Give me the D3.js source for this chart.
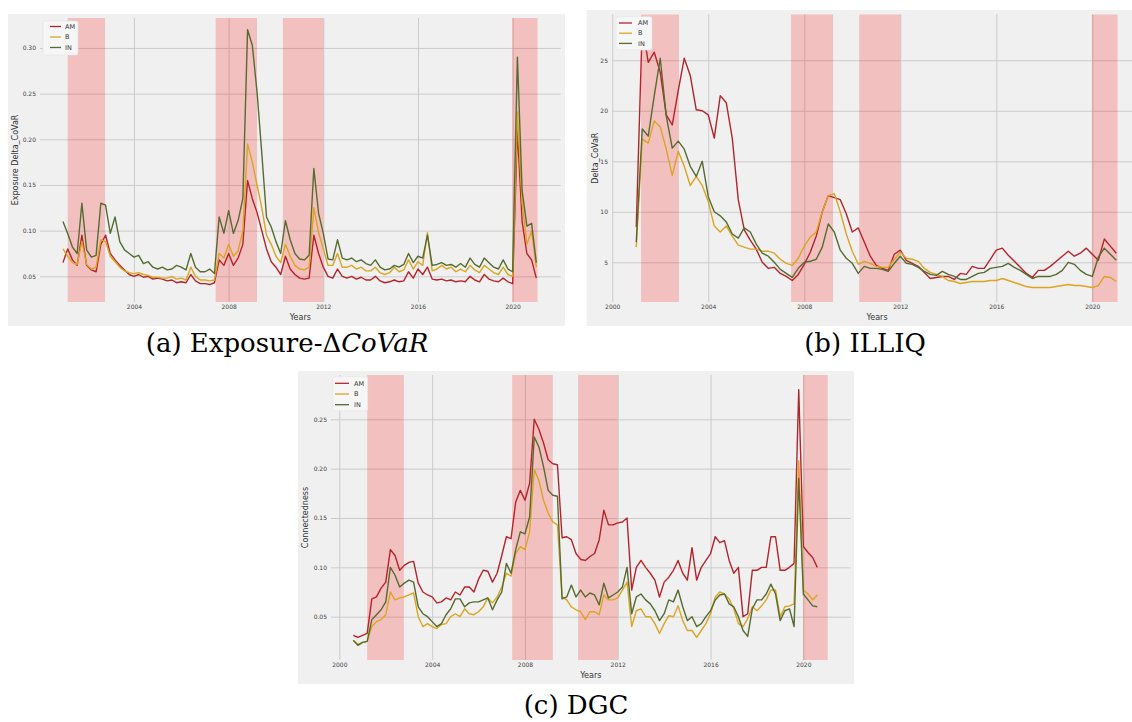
<!DOCTYPE html>
<html lang="en">
  <head>
    <meta charset="UTF-8" />
    <meta name="viewport" content="width=device-width, initial-scale=1.0" />
    <title>Exposure-ΔCoVaR, ILLIQ, DGC</title>
    <script type="text/javascript" src="https://d3js.org/d3.v7.min.js"></script>
    <style>
      body { margin: 0; background: #fff; }
      text { font-family: "DejaVu Sans", sans-serif; }
    </style>
  </head>
  <body>
    <svg width="1132" height="722"></svg>
    <script>
      const seriesNames = ["AM", "B", "IN"];
      const seriesColors = ["#b5232a", "#daa520", "#556b2f"];
      // shaded crisis periods (decimal years)
      const crisisBands = [[2001.2, 2002.78], [2007.45, 2009.2], [2010.29, 2012.0], [2019.98, 2021.05]];

      // (a) Exposure Delta_CoVaR, sampled every 0.2 year from 2001.0
      const covarYears = d3.range(101).map((i) => 2001 + i * 0.2);
      const covarAM = [
        0.065, 0.080, 0.068, 0.062, 0.095, 0.062, 0.057, 0.055, 0.085, 0.095,
        0.075, 0.068, 0.062, 0.057, 0.052, 0.050, 0.052, 0.049, 0.050, 0.047,
        0.048, 0.047, 0.045, 0.046, 0.043, 0.044, 0.043, 0.052, 0.045, 0.042,
        0.042, 0.041, 0.043, 0.068, 0.062, 0.075, 0.062, 0.070, 0.085, 0.155,
        0.135, 0.120, 0.100, 0.080, 0.066, 0.060, 0.052, 0.072, 0.058, 0.052,
        0.048, 0.047, 0.048, 0.095, 0.075, 0.060, 0.050, 0.048,
        0.058, 0.050, 0.048, 0.050, 0.047, 0.049, 0.046, 0.046, 0.050, 0.045,
        0.043, 0.044, 0.046, 0.044, 0.045, 0.055, 0.048, 0.058, 0.052, 0.060,
        0.047, 0.046, 0.047, 0.045, 0.046, 0.044, 0.045, 0.044, 0.050, 0.046,
        0.044, 0.052, 0.047, 0.045, 0.044, 0.048, 0.044, 0.042, 0.210, 0.110,
        0.075, 0.068, 0.048
      ];
      const covarB = [
        0.080, 0.072, 0.065, 0.063, 0.088, 0.063, 0.058, 0.060, 0.090, 0.088,
        0.072, 0.066, 0.060, 0.056, 0.054, 0.053, 0.054, 0.052, 0.051, 0.049,
        0.049, 0.048, 0.048, 0.050, 0.047, 0.048, 0.046, 0.060, 0.050, 0.046,
        0.046, 0.045, 0.046, 0.075, 0.070, 0.085, 0.072, 0.078, 0.100, 0.195,
        0.175, 0.150, 0.125, 0.095, 0.085, 0.072, 0.065, 0.085, 0.072, 0.062,
        0.058, 0.057, 0.060, 0.125, 0.098, 0.080, 0.062, 0.062,
        0.075, 0.060, 0.060, 0.062, 0.058, 0.060, 0.056, 0.056, 0.060, 0.054,
        0.052, 0.054, 0.060, 0.055, 0.057, 0.068, 0.058, 0.066, 0.062, 0.098,
        0.056, 0.058, 0.062, 0.058, 0.060, 0.055, 0.058, 0.055, 0.062, 0.057,
        0.054, 0.062, 0.058, 0.054, 0.052, 0.060, 0.052, 0.050, 0.230, 0.130,
        0.085, 0.100, 0.060
      ];
      const covarIN = [
        0.110, 0.097, 0.082, 0.075, 0.130, 0.079, 0.071, 0.073, 0.130, 0.128,
        0.097, 0.115, 0.088, 0.079, 0.075, 0.071, 0.073, 0.064, 0.066, 0.060,
        0.058, 0.060, 0.057, 0.058, 0.062, 0.060, 0.057, 0.075, 0.060, 0.055,
        0.055, 0.058, 0.053, 0.115, 0.097, 0.122, 0.097, 0.111, 0.135, 0.320,
        0.303, 0.252, 0.185, 0.115, 0.104, 0.088, 0.075, 0.111, 0.090, 0.075,
        0.069, 0.068, 0.073, 0.168, 0.119, 0.097, 0.069, 0.068,
        0.090, 0.070, 0.068, 0.070, 0.066, 0.068, 0.064, 0.062, 0.068, 0.060,
        0.057, 0.058, 0.062, 0.060, 0.063, 0.075, 0.065, 0.072, 0.070, 0.095,
        0.062, 0.063, 0.065, 0.062, 0.063, 0.060, 0.064, 0.060, 0.070, 0.063,
        0.060, 0.070, 0.065, 0.060, 0.058, 0.068, 0.058, 0.055, 0.290, 0.144,
        0.105, 0.108, 0.065
      ];

      // (b) ILLIQ, sampled every quarter year from 2001.0
      const illiqYears = d3.range(81).map((i) => 2001 + i * 0.25);
      const illiqAM = [
        8.5, 28.5, 24.8, 25.8, 23.8, 19.6, 18.6, 22.0, 25.2, 23.5,
        20.1, 20.0, 19.6, 17.3, 21.5, 20.8, 17.3, 11.2, 8.2, 7.2,
        6.3, 5.0, 4.4, 4.5, 3.9, 3.6, 3.2, 3.8, 4.8, 6.0,
        7.6, 10.0, 11.6, 11.4, 11.2, 9.8, 8.0, 8.4, 7.0, 5.6,
        4.7, 4.4, 4.2, 5.8, 6.2, 5.2, 4.9, 4.6, 4.0, 3.4,
        3.5, 3.6, 3.6, 3.3, 3.9, 3.8, 4.6, 4.4, 4.4, 5.3,
        6.2, 6.4, 5.7, 5.1, 4.5, 3.9, 3.5, 4.2, 4.2, 4.6,
        5.1, 5.6, 6.1, 5.6, 5.9, 6.4, 5.8, 5.2, 7.3, 6.6,
        5.9
      ];
      const illiqB = [
        6.5, 17.2, 16.8, 19.0, 18.4, 16.2, 13.6, 16.0, 14.5, 12.6,
        13.5, 12.6, 11.0, 8.6, 8.0, 8.6, 7.6, 6.7, 6.5, 6.3,
        6.3, 6.1, 6.1, 5.9, 5.3, 4.9, 4.7, 5.4, 6.6, 7.5,
        8.0, 10.0, 11.6, 11.8, 10.0, 7.8, 6.1, 4.8, 5.1, 4.9,
        4.6, 4.5, 4.5, 5.3, 6.0, 5.4, 5.3, 5.1, 4.4, 4.0,
        3.8, 3.6, 3.2, 3.1, 2.9, 3.0, 3.1, 3.1, 3.1, 3.2,
        3.2, 3.4, 3.2, 3.0, 2.8, 2.6, 2.5, 2.5, 2.5, 2.5,
        2.6, 2.7, 2.8, 2.7, 2.7, 2.6, 2.5, 2.7, 3.6, 3.5,
        3.1
      ];
      const illiqIN = [
        7.0, 18.2, 17.5, 21.5, 25.2, 19.5, 16.3, 17.0, 16.2, 14.5,
        13.5, 15.0, 11.5, 10.0, 9.6, 9.0, 7.8, 7.4, 8.4, 8.0,
        6.8, 5.9, 5.6, 5.0, 4.3, 3.9, 3.5, 4.4, 5.0, 5.1,
        5.3, 6.5, 8.8, 8.0, 6.2, 5.4, 4.9, 3.9, 4.6, 4.4,
        4.4, 4.3, 4.1, 4.9, 5.6, 4.9, 4.8, 4.5, 4.1, 3.8,
        3.7, 4.1, 3.8, 3.6, 3.3, 3.3, 3.6, 3.9, 4.0, 4.4,
        4.5, 4.6, 4.9, 4.5, 4.2, 3.8, 3.4, 3.6, 3.6, 3.6,
        3.8, 4.2, 5.0, 4.8, 4.2, 3.8, 3.6, 5.5, 6.4, 5.8,
        5.2
      ];

      // (c) DGC connectedness, sampled every 0.2 year from 2000.6
      const dgcYears = d3.range(101).map((i) => 2000.6 + i * 0.2);
      const dgcAM = [
        0.031, 0.029, 0.031, 0.033, 0.068, 0.070, 0.079, 0.085, 0.118, 0.112,
        0.097, 0.102, 0.105, 0.106, 0.084, 0.075, 0.072, 0.070, 0.064, 0.065,
        0.069, 0.067, 0.075, 0.072, 0.080, 0.080, 0.075, 0.088, 0.097, 0.096,
        0.085, 0.094, 0.112, 0.131, 0.129, 0.166, 0.178, 0.168, 0.185, 0.250,
        0.240, 0.226, 0.209, 0.205, 0.204, 0.130, 0.131, 0.128, 0.114, 0.108,
        0.107, 0.111, 0.114, 0.128, 0.158, 0.143, 0.143, 0.145,
        0.146, 0.150, 0.077, 0.100, 0.107, 0.100, 0.094, 0.087, 0.070, 0.085,
        0.090, 0.097, 0.107, 0.094, 0.087, 0.120, 0.087, 0.100, 0.107, 0.114,
        0.131, 0.125, 0.127, 0.107, 0.094, 0.100, 0.050, 0.053, 0.097, 0.097,
        0.100, 0.100, 0.131, 0.131, 0.097, 0.097, 0.100, 0.104, 0.280, 0.121,
        0.115, 0.110, 0.100
      ];
      const dgcB = [
        0.026, 0.022, 0.024, 0.025, 0.040, 0.045, 0.047, 0.052, 0.075, 0.067,
        0.069, 0.070, 0.072, 0.074, 0.050, 0.040, 0.043, 0.040, 0.038, 0.042,
        0.043, 0.050, 0.053, 0.050, 0.058, 0.053, 0.052, 0.055, 0.060, 0.069,
        0.064, 0.070, 0.080, 0.094, 0.091, 0.114, 0.121, 0.118, 0.136, 0.199,
        0.188, 0.168, 0.155, 0.146, 0.143, 0.070, 0.067, 0.060, 0.057, 0.055,
        0.047, 0.055, 0.055, 0.052, 0.072, 0.067, 0.067, 0.069,
        0.077, 0.085, 0.040, 0.056, 0.058, 0.050, 0.050, 0.043, 0.033, 0.043,
        0.051, 0.050, 0.061, 0.046, 0.036, 0.036, 0.029, 0.036, 0.043, 0.053,
        0.070, 0.075, 0.073, 0.068, 0.058, 0.043, 0.040, 0.048, 0.060, 0.056,
        0.061, 0.067, 0.077, 0.077, 0.050, 0.060, 0.061, 0.063, 0.208, 0.077,
        0.073, 0.067, 0.072
      ];
      const dgcIN = [
        0.026, 0.021, 0.024, 0.025, 0.047, 0.052, 0.057, 0.065, 0.100, 0.092,
        0.080, 0.084, 0.087, 0.085, 0.060, 0.053, 0.050, 0.045, 0.040, 0.043,
        0.052, 0.058, 0.068, 0.068, 0.060, 0.064, 0.065, 0.065, 0.067, 0.069,
        0.057, 0.067, 0.075, 0.104, 0.094, 0.118, 0.136, 0.134, 0.151, 0.232,
        0.222, 0.202, 0.178, 0.173, 0.172, 0.068, 0.070, 0.082, 0.070, 0.077,
        0.070, 0.074, 0.072, 0.062, 0.084, 0.069, 0.072, 0.075,
        0.080, 0.100, 0.053, 0.070, 0.073, 0.067, 0.063, 0.056, 0.046, 0.053,
        0.067, 0.065, 0.077, 0.060, 0.046, 0.050, 0.040, 0.043, 0.050, 0.056,
        0.067, 0.072, 0.073, 0.063, 0.060, 0.050, 0.036, 0.030, 0.058, 0.067,
        0.067, 0.073, 0.083, 0.073, 0.046, 0.056, 0.058, 0.040, 0.190, 0.073,
        0.067, 0.061, 0.060
      ];

      // tick labels
      const yearTicks = [2000, 2004, 2008, 2012, 2016, 2020];
      const covarTicks = [0.05, 0.10, 0.15, 0.20, 0.25, 0.30];
      const illiqTicks = [5, 10, 15, 20, 25];
      const dgcTicks = [0.05, 0.10, 0.15, 0.20, 0.25];

      const svg = d3.select("svg");

      // layout of the three panels
      const panels = [
        {
          id: "a", years: covarYears, series: [covarAM, covarB, covarIN],
          xTicks: yearTicks.slice(1), yTicks: covarTicks, fmt: d3.format(".2f"),
          yLabel: "Exposure Delta_CoVaR",
          box: [8, 14, 565, 326], xRange: [40, 560.7], xDomain: [2000.03, 2022.03],
          yRange: [302, 18], yDomain: [0.0219, 0.3328], yLabelX: 15, yearsY: 320,
          legend: { x0: 43, y0: 21, w: 35, h: 34, l0: 50, l1: 61, tx: 65, rows: [26.5, 37, 47.5] },
          caption: { x: 287, y: 352, parts: [["(a) Exposure-Δ", "normal"], ["CoVaR", "italic"]] }
        },
        {
          id: "b", years: illiqYears, series: [illiqAM, illiqB, illiqIN],
          xTicks: yearTicks, yTicks: illiqTicks, fmt: d3.format("d"),
          yLabel: "Delta_CoVaR",
          box: [586.7, 10, 1132, 326], xRange: [612, 1142], xDomain: [1999.99, 2022.07],
          yRange: [302, 14.3], yDomain: [1.07, 29.55], yLabelX: 595, yearsY: 320,
          legend: { x0: 616, y0: 16.7, w: 36, h: 33.3, l0: 619, l1: 632, tx: 638, rows: [23, 33.2, 43.4] },
          caption: { x: 865, y: 352, parts: [["(b) ILLIQ", "normal"]] }
        },
        {
          id: "c", years: dgcYears, series: [dgcAM, dgcB, dgcIN],
          xTicks: yearTicks, yTicks: dgcTicks, fmt: d3.format(".2f"),
          yLabel: "Connectedness",
          box: [298, 371, 854, 684], xRange: [331, 850.7], xDomain: [1999.64, 2022.04],
          yRange: [660, 375], yDomain: [0.0061, 0.2949], yLabelX: 305, yearsY: 678,
          legend: { x0: 332.7, y0: 376.7, w: 35, h: 34, l0: 335, l1: 349, tx: 354, rows: [383.3, 394, 404.7] },
          caption: { x: 576, y: 714, parts: [["(c) DGC", "normal"]] }
        }
      ];

      panels.forEach(drawPanel);

      function drawPanel(p) {
        const g = svg.append("g");
        const [bx0, by0, bx1, by1] = p.box;
        g.append("rect")
          .attr("x", bx0).attr("y", by0)
          .attr("width", bx1 - bx0).attr("height", by1 - by0)
          .attr("fill", "#f0f0f0");

        const x = d3.scaleLinear().domain(p.xDomain).range(p.xRange);
        const y = d3.scaleLinear().domain(p.yDomain).range(p.yRange);
        const w = p.xRange[1] - p.xRange[0];
        const h = p.yRange[0] - p.yRange[1];

        // y axis with grid
        const ya = g.append("g")
          .attr("transform", `translate(${p.xRange[0]},0)`)
          .call(d3.axisLeft(y).tickValues(p.yTicks).tickFormat(p.fmt).tickSize(-w).tickPadding(4));
        ya.select(".domain").remove();
        ya.selectAll("line").attr("stroke", "#cbcbcb").attr("stroke-width", 1);
        ya.selectAll("text").attr("font-size", 6).attr("fill", "#444");

        // x axis with grid
        const xa = g.append("g")
          .attr("transform", `translate(0,${p.yRange[0]})`)
          .call(d3.axisBottom(x).tickValues(p.xTicks).tickFormat(d3.format("d")).tickSize(-h).tickPadding(3));
        xa.select(".domain").remove();
        xa.selectAll("line").attr("stroke", "#cbcbcb").attr("stroke-width", 1);
        xa.selectAll("text").attr("font-size", 6).attr("fill", "#444");

        // clip to the axes area
        const clipId = "clip-" + p.id;
        g.append("clipPath").attr("id", clipId)
          .append("rect")
          .attr("x", p.xRange[0]).attr("y", p.yRange[1])
          .attr("width", w).attr("height", h);

        const plot = g.append("g").attr("clip-path", `url(#${clipId})`);

        // crisis bands
        plot.selectAll(".band").data(crisisBands).enter().append("rect")
          .attr("x", (d) => x(d[0]))
          .attr("y", p.yRange[1])
          .attr("width", (d) => x(d[1]) - x(d[0]))
          .attr("height", h)
          .attr("fill", "#ff0000")
          .attr("fill-opacity", 0.2);

        // the three series
        const line = d3.line()
          .x((d, i) => x(p.years[i]))
          .y((d) => y(d));
        p.series.forEach((s, k) => {
          plot.append("path")
            .datum(s)
            .attr("d", line)
            .attr("fill", "none")
            .attr("stroke", seriesColors[k])
            .attr("stroke-width", 1.4)
            .attr("stroke-linejoin", "round");
        });

        // legend
        const L = p.legend;
        g.append("rect")
          .attr("x", L.x0).attr("y", L.y0)
          .attr("width", L.w).attr("height", L.h)
          .attr("rx", 2)
          .attr("fill", "#f6f6f6")
          .attr("stroke", "#e4e4e4")
          .attr("stroke-width", 0.6);
        seriesNames.forEach((name, k) => {
          g.append("line")
            .attr("x1", L.l0).attr("x2", L.l1)
            .attr("y1", L.rows[k]).attr("y2", L.rows[k])
            .attr("stroke", seriesColors[k])
            .attr("stroke-width", 1.3);
          g.append("text")
            .attr("x", L.tx).attr("y", L.rows[k])
            .attr("dy", "0.35em")
            .attr("font-size", 6.5)
            .attr("fill", "#333")
            .text(name);
        });

        // axis titles
        g.append("text")
          .attr("transform", `translate(${p.yLabelX},${(p.yRange[0] + p.yRange[1]) / 2}) rotate(-90)`)
          .attr("text-anchor", "middle")
          .attr("dy", "0.35em")
          .attr("font-size", 8)
          .attr("fill", "#333")
          .text(p.yLabel);
        g.append("text")
          .attr("x", (p.xRange[0] + p.xRange[1]) / 2)
          .attr("y", p.yearsY)
          .attr("text-anchor", "middle")
          .attr("font-size", 8)
          .attr("fill", "#333")
          .text("Years");

        // sub-figure caption
        const cap = svg.append("text")
          .attr("x", p.caption.x)
          .attr("y", p.caption.y)
          .attr("text-anchor", "middle")
          .style("font-family", '"DejaVu Serif", serif')
          .attr("font-size", 26)
          .attr("fill", "#000");
        p.caption.parts.forEach(([t, st]) => {
          cap.append("tspan").attr("font-style", st).text(t);
        });
      }
    </script>
  </body>
</html>
